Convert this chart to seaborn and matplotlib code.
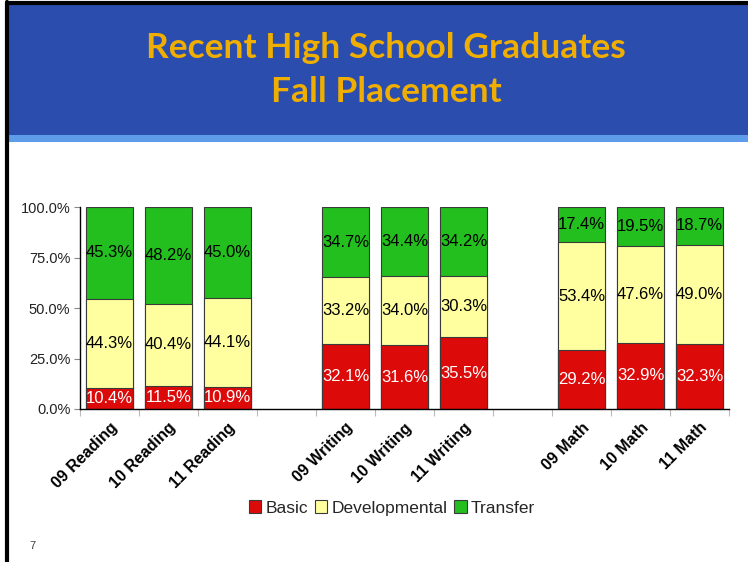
import matplotlib
matplotlib.use("Agg")
import matplotlib.pyplot as plt
import seaborn as sns
import pandas as pd
import numpy as np
from matplotlib.patches import Rectangle
from matplotlib.lines import Line2D

categories = ["09 Reading", "10 Reading", "11 Reading",
              "09 Writing", "10 Writing", "11 Writing",
              "09 Math", "10 Math", "11 Math"]
basic = [10.4, 11.5, 10.9, 32.1, 31.6, 35.5, 29.2, 32.9, 32.3]
developmental = [44.3, 40.4, 44.1, 33.2, 34.0, 30.3, 53.4, 47.6, 49.0]
transfer = [45.3, 48.2, 45.0, 34.7, 34.4, 34.2, 17.4, 19.5, 18.7]
series_names = ["Basic", "Developmental", "Transfer"]
colors = {"Basic": "#DD0A0A", "Developmental": "#FFFFA0", "Transfer": "#22BF1E"}

slot_order = ["09 Reading", "10 Reading", "11 Reading", " ",
              "09 Writing", "10 Writing", "11 Writing", "  ",
              "09 Math", "10 Math", "11 Math"]

df = pd.DataFrame({"category": categories,
                   "Basic": np.array(basic) / 100,
                   "Developmental": np.array(developmental) / 100,
                   "Transfer": np.array(transfer) / 100})
df["cum_basic"] = df["Basic"]
df["cum_dev"] = df["Basic"] + df["Developmental"]
df["cum_all"] = (df["Basic"] + df["Developmental"] + df["Transfer"]).clip(upper=1.0)

sns.set_theme(style="white")
plt.rcParams["font.family"] = ["Liberation Sans", "DejaVu Sans"]

W, H = 748, 562
fig = plt.figure(figsize=(W / 100, H / 100), dpi=100)
fig.patch.set_facecolor("white")

# Slide header
fig.patches.append(Rectangle((7 / W, 1 - 135 / H), 1, 131 / H, transform=fig.transFigure,
                             facecolor="#2B4DAE", edgecolor="none", zorder=0))
fig.patches.append(Rectangle((7 / W, 1 - 142 / H), 1, 7 / H, transform=fig.transFigure,
                             facecolor="#5E9BE8", edgecolor="none", zorder=0))
fig.lines.append(Line2D([7 / W, 1], [1 - 3 / H, 1 - 3 / H], transform=fig.transFigure,
                        color="black", lw=3))
fig.lines.append(Line2D([7 / W, 7 / W], [0, 1 - 2 / H], transform=fig.transFigure,
                        color="black", lw=3))
fig.text(386 / W, 1 - 48 / H, "Recent High School Graduates", ha="center", va="center",
         fontsize=25.5, fontweight="bold", color="#F0AE00", family=["Lato", "DejaVu Sans"])
fig.text(386 / W, 1 - 92 / H, "Fall Placement", ha="center", va="center",
         fontsize=25.5, fontweight="bold", color="#F0AE00", family=["Lato", "DejaVu Sans"])
fig.text(32 / W, 1 - 546 / H, "7", ha="center", va="center", fontsize=8, color="#404040")

ax = fig.add_axes([80 / W, 1 - 409 / H, (729 - 80) / W, (409 - 207) / H])

edge = "#3A3A3A"
sns.barplot(data=df, x="category", y="cum_all", order=slot_order, color=colors["Transfer"],
            width=0.8, edgecolor=edge, linewidth=0.8, saturation=1, ax=ax, errorbar=None)
sns.barplot(data=df, x="category", y="cum_dev", order=slot_order, color=colors["Developmental"],
            width=0.8, edgecolor=edge, linewidth=0.8, saturation=1, ax=ax, errorbar=None)
sns.barplot(data=df, x="category", y="cum_basic", order=slot_order, color=colors["Basic"],
            width=0.8, edgecolor=edge, linewidth=0.8, saturation=1, ax=ax, errorbar=None)

pos = {c: i for i, c in enumerate(slot_order)}
for _, r in df.iterrows():
    x = pos[r["category"]]
    ax.text(x, r["Basic"] / 2, f"{r['Basic']*100:.1f}%", ha="center", va="center",
            fontsize=12, color="white")
    ax.text(x, r["Basic"] + r["Developmental"] / 2, f"{r['Developmental']*100:.1f}%",
            ha="center", va="center", fontsize=12, color="black")
    ax.text(x, r["cum_dev"] + r["Transfer"] / 2, f"{r['Transfer']*100:.1f}%",
            ha="center", va="center", fontsize=12, color="black")

ax.set_xlim(-0.5, len(slot_order) - 0.5)
ax.set_ylim(0, 1.0)
ax.set_yticks([0, 0.25, 0.5, 0.75, 1.0])
ax.set_yticklabels(["0.0%", "25.0%", "50.0%", "75.0%", "100.0%"], fontsize=10.5, color="#222222")
ax.tick_params(axis="y", which="major", left=True, length=4, width=0.8, color="#888888", pad=3)
ax.set_xticks(range(len(slot_order)))
ax.set_xticklabels([c.strip() for c in slot_order], rotation=45, ha="right",
                   rotation_mode="anchor", fontsize=11.5, fontweight="bold", color="black")
ax.tick_params(axis="x", which="major", length=0, pad=8)
ax.set_xticks(np.arange(-0.5, len(slot_order), 1.0), minor=True)
ax.tick_params(axis="x", which="minor", bottom=True, length=5, width=0.8, color="#BBBBBB")
ax.set_xlabel("")
ax.set_ylabel("")
for s in ["top", "right"]:
    ax.spines[s].set_visible(False)
for s in ["left", "bottom"]:
    ax.spines[s].set_color("black")
    ax.spines[s].set_linewidth(1.0)
ax.set_facecolor("white")
ax.grid(False)

handles = [Rectangle((0, 0), 1, 1, facecolor=colors[n], edgecolor=edge, linewidth=0.8)
           for n in series_names]
fig.legend(handles, series_names, loc="center", bbox_to_anchor=(392 / W, 1 - 508 / H),
           ncol=3, frameon=False, fontsize=12.5, handlelength=0.7, handleheight=0.7,
           handletextpad=0.25, columnspacing=0.4)

fig.savefig("out.png", dpi=100, facecolor="white")
